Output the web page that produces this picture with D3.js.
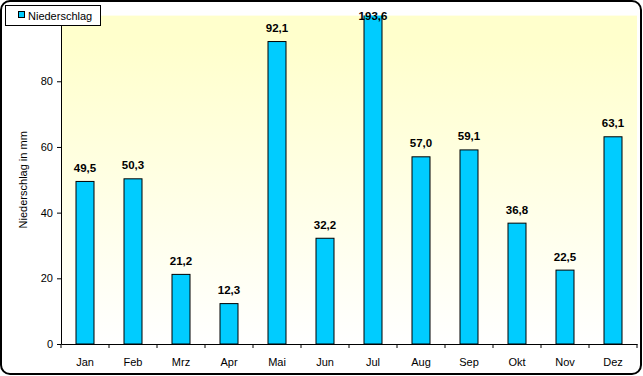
<!DOCTYPE html>
<html>
<head>
<meta charset="utf-8">
<script src="https://cdn.jsdelivr.net/npm/d3@7"></script>
<style>
html,body{margin:0;padding:0;background:#fff;}
svg{display:block;font-family:"Liberation Sans",Arial,sans-serif;}
</style>
</head>
<body>
<svg id="chart" width="643" height="376"></svg>
<script>
const categories = ["Jan","Feb","Mrz","Apr","Mai","Jun","Jul","Aug","Sep","Okt","Nov","Dez"];
const values = [49.5,50.3,21.2,12.3,92.1,32.2,193.6,57.0,59.1,36.8,22.5,63.1];
const yTicks = [0,20,40,60,80];
const seriesName = "Niederschlag";
const yTitle = "Niederschlag in mm";

const svg = d3.select("#chart");
const W = 643, H = 376;
const m = {left:61, right:6, top:15.6, bottom:32};
const pw = W - m.left - m.right, ph = H - m.top - m.bottom;

const defs = svg.append("defs");
const grad = defs.append("linearGradient").attr("id","bg").attr("x1",0).attr("y1",0).attr("x2",0).attr("y2",1);
grad.append("stop").attr("offset","0").attr("stop-color","#FFFFCC");
grad.append("stop").attr("offset","0.08").attr("stop-color","#FFFFCC");
grad.append("stop").attr("offset","1").attr("stop-color","#FFFFFF");
defs.append("clipPath").attr("id","clip").append("rect").attr("x",0).attr("y",0).attr("width",pw).attr("height",ph);

// outer frame
svg.append("rect").attr("x",1).attr("y",1).attr("width",W-3).attr("height",H-3)
  .attr("rx",9).attr("ry",9).attr("fill","#fff").attr("stroke","#000").attr("stroke-width",2);

const g = svg.append("g").attr("transform",`translate(${m.left},${m.top})`);
g.append("rect").attr("width",pw).attr("height",ph).attr("fill","url(#bg)");

const x = d3.scaleBand().domain(categories).range([0,pw]).paddingInner(0.625).paddingOuter(0.3125);
const xt = d3.scaleBand().domain(categories).range([0,pw]);
const y = d3.scaleLinear().domain([0,100]).range([ph,0]);

// bars
g.append("g").attr("clip-path","url(#clip)").selectAll("rect").data(values).join("rect")
  .attr("x",(d,i)=>x(categories[i]))
  .attr("y",d=>y(d))
  .attr("width",x.bandwidth())
  .attr("height",d=>ph - y(d))
  .attr("fill","#00CCFF").attr("stroke","#000").attr("stroke-width",1);

// value labels
g.append("g").selectAll("text").data(values).join("text")
  .attr("x",(d,i)=>x(categories[i]) + x.bandwidth()/2)
  .attr("y",d=>Math.max(y(Math.min(d,100)) - 9.5, 4))
  .attr("text-anchor","middle").attr("font-size",11.5).attr("font-weight","bold")
  .text(d=>d.toFixed(1).replace(".",","));

// y axis
const ya = d3.axisLeft(y).tickValues(yTicks).tickSize(4).tickPadding(4).tickSizeOuter(0);
const yg = g.append("g").call(ya);
yg.select(".domain").attr("stroke","#000");
yg.selectAll("text").attr("font-size",11).attr("font-family","Liberation Sans, Arial, sans-serif").attr("fill","#000");

// x axis
const xa = d3.axisBottom(xt).tickSize(0).tickPadding(14);
const xg = g.append("g").attr("transform",`translate(0,${ph})`).call(xa);
xg.select(".domain").attr("stroke","#000");
xg.selectAll("text").attr("font-size",11).attr("font-family","Liberation Sans, Arial, sans-serif").attr("fill","#000");
xg.selectAll(".xtick").data(d3.range(categories.length+1)).join("line").attr("class","xtick")
  .attr("x1",i=>i*xt.step()).attr("x2",i=>i*xt.step()).attr("y1",0).attr("y2",4).attr("stroke","#000");

// y title
svg.append("text").attr("transform",`translate(27,${m.top+ph/2}) rotate(-90)`)
  .attr("text-anchor","middle").attr("font-size",11).text(yTitle);

// legend
const lg = svg.append("g");
lg.append("rect").attr("x",5.5).attr("y",5.5).attr("width",95).attr("height",20).attr("fill","#fff").attr("stroke","#000");
lg.append("rect").attr("x",18.5).attr("y",11.5).attr("width",6).attr("height",6).attr("fill","#00CCFF").attr("stroke","#000");
lg.append("text").attr("x",28).attr("y",19.5).attr("font-size",11).text(seriesName);
</script>
</body>
</html>
